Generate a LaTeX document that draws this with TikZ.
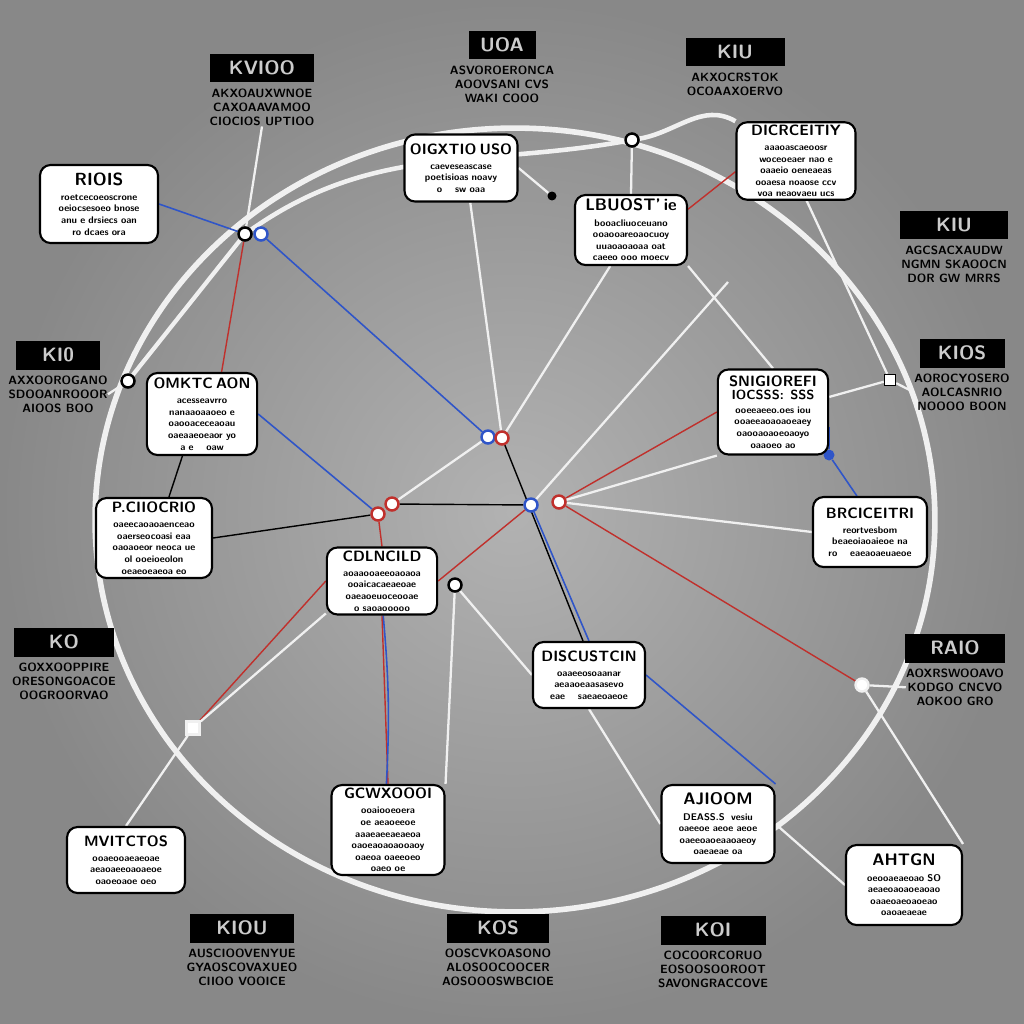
\documentclass[tikz,border=0pt]{standalone}
\usetikzlibrary{positioning,backgrounds}
\definecolor{bgin}{HTML}{B2B2B2}
\definecolor{bgout}{HTML}{888888}
\definecolor{wirered}{HTML}{C0302C}
\definecolor{wireblue}{HTML}{2F55C8}
\definecolor{rimwhite}{HTML}{F0F0F0}
\begin{document}
\begin{tikzpicture}[x=0.02cm,y=-0.02cm,
    card/.style={draw=black,line width=1.2pt,fill=white,rounded corners=6pt,
      align=center,text width=2.1cm,inner sep=1.5pt,
      font=\fontsize{5.5}{6.6}\selectfont\sffamily\bfseries},
    tag/.style={fill=black,text=gray!40,inner sep=1pt,minimum height=0.58cm,
      font=\fontsize{11}{12}\selectfont\sffamily\bfseries},
    blurb/.style={align=center,inner sep=0pt,
      font=\fontsize{6.8}{8.2}\selectfont\sffamily\bfseries},
    hub/.style={circle,draw=black,fill=white,line width=1.4pt,inner sep=0pt,minimum size=0.26cm},
    rhub/.style={hub,draw=wirered},
    bhub/.style={hub,draw=wireblue},
    wwire/.style={draw=rimwhite,line width=1.3pt},
    rwire/.style={draw=wirered,line width=0.8pt},
    bwire/.style={draw=wireblue,line width=0.9pt},
    kwire/.style={draw=black,line width=0.8pt}]
  \useasboundingbox (0,0) rectangle (1024,1024);

  % hubs
  \node[hub] (hA) at (245,234) {};
  \node[bhub] (hB) at (261,234) {};
  \node[bhub] (hC) at (488,437) {};
  \node[rhub] (hD) at (502,438) {};
  \node[rhub] (hE) at (392,504) {};
  \node[rhub] (hF) at (378,514) {};
  \node[bhub] (hG) at (531,505) {};
  \node[rhub] (hH) at (559,502) {};
  \node[hub] (hI) at (455,585) {};
  \node[hub] (hJ) at (128,381) {};
  \node[hub] (hK) at (632,140) {};
  \node[hub,draw=rimwhite] (hL) at (862,685) {};
  \node[hub,draw=rimwhite,rectangle] (hM) at (193,728) {};
  \node[circle,fill=wireblue,inner sep=0pt,minimum size=0.22cm] (hN) at (829,455) {};
  \node[circle,fill=black,inner sep=0pt,minimum size=0.18cm] (hQ) at (552,196) {};
  \node[hub,rectangle,minimum size=0.22cm,line width=0.8pt] (hP) at (890,380) {};
  \coordinate (c1) at (728,282);

  % cards
  \node[card,minimum width=2.36cm,minimum height=1.56cm] (rios) at (99,204)
    {{\fontsize{10}{11}\selectfont RIOIS}\\[2pt]
     roetcecoeoscrone\\ oeiocsesoeo bnose\\ anu e drsiecs oan\\ ro dcaes ora};
  \node[card,minimum width=2.26cm,minimum height=1.34cm] (oigx) at (461,168)
    {{\fontsize{8.5}{10}\selectfont OIGXTIO USO}\\[2pt]
     caeveseascase\\ poetisioas noavy\\ o \quad sw oaa};
  \node[card,minimum width=2.24cm,minimum height=1.40cm] (lbuo) at (631,230)
    {{\fontsize{9.5}{11}\selectfont LBUOST' ie}\\[2pt]
     booacliuoceuano\\ ooaooareoaocuoy\\ uuaoaoaoaa oat\\ caeeo ooo moecv};
  \node[card,minimum width=2.38cm,minimum height=1.54cm] (dicr) at (796,161)
    {{\fontsize{8.5}{10}\selectfont DICRCEITIY}\\[2pt]
     aaaoascaeoosr\\ woceoeaer nao e\\ oaaeio oeneaeas\\ ooaesa noaose ccv\\ voa neaovaeu ucs};
  \node[card,minimum width=2.16cm,minimum height=1.64cm] (omkt) at (202,414)
    {{\fontsize{8.5}{10}\selectfont OMKTC AON}\\[2pt]
     acesseavrro\\ nanaaoaaoeo e\\ oaooaceceaoau\\ oaeaaeoeaor yo\\ a e \quad oaw};
  \node[card,minimum width=2.32cm,minimum height=1.60cm] (pcio) at (154,538)
    {{\fontsize{8.5}{10}\selectfont P.CIIOCRIO}\\[2pt]
     oaeecaoaoaenceao\\ oaerseocoasi eaa\\ oaoaoeor neoca ue\\ ol ooeioeolon\\ oeaeoeaeoa eo};
  \node[card,minimum width=2.18cm,minimum height=1.34cm] (cdln) at (382,581)
    {{\fontsize{8.5}{10}\selectfont CDLNCILD}\\[2pt]
     aoaaooaeeoaoaoa\\ ooaicacaeaeoae\\ oaeaoeuoceooae\\ o saoaooooo};
  \node[card,minimum width=2.20cm,minimum height=1.70cm] (snig) at (773,412)
    {{\fontsize{8.5}{10}\selectfont SNIGIOREFI}\\[1pt]
     {\fontsize{7.5}{9}\selectfont IOCSSS: \ SSS}\\[1pt]
     ooeeaeeo.oes iou\\ ooaeeaoaoaoeaey\\ oaooaoaoeoaoyo\\ oaaoeo ao};
  \node[card,minimum width=2.28cm,minimum height=1.40cm] (brci) at (870,532)
    {{\fontsize{8.5}{10}\selectfont BRCICEITRI}\\[2pt]
     reortvesbom\\ beaeoiaoaieoe na\\ ro \quad eaeaoaeuaeoe};
  \node[card,minimum width=2.24cm,minimum height=1.32cm] (disc) at (589,675)
    {{\fontsize{8.5}{10}\selectfont DISCUSTCIN}\\[2pt]
     oaaeeosoaanar\\ aeaaoeaasasevo\\ eae \quad saeaeoaeoe};
  \node[card,minimum width=2.26cm,minimum height=1.56cm] (ajio) at (718,824)
    {{\fontsize{9.5}{11}\selectfont AJIOOM}\\[2pt]
     DEASS.S \ vesiu\\ oaeeoe aeoe aeoe\\ oaeeoaoeaaoaeoy\\ oaeaeae oa};
  \node[card,minimum width=2.26cm,minimum height=1.80cm] (gcwx) at (388,830)
    {{\fontsize{8.5}{10}\selectfont GCWXOOOI}\\[2pt]
     ooaiooeoera\\ oe aeaoeeoe\\ aaaeaeeaeaeoa\\ oaoeaoaoaooaoy\\ oaeoa oaeeoeo\\ oaeo oe};
  \node[card,minimum width=2.36cm,minimum height=1.32cm] (mvit) at (126,860)
    {{\fontsize{8.5}{10}\selectfont MVITCTOS}\\[2pt]
     ooaeooaeaeoae\\ aeaoaeeoaoaeoe\\ oaoeoaoe oeo};
  \node[card,minimum width=2.32cm,minimum height=1.60cm] (ahtg) at (904,885)
    {{\fontsize{9.5}{11}\selectfont AHTGN}\\[2pt]
     oeooaeaeoao SO\\ aeaeoaoaoeaoao\\ oaaeoaeoaoeao\\ oaoaeaeae};

  % outer labels
  \node[tag,minimum width=2.1cm] (kvio) at (262,68) {KVIOO};
  \node[blurb,below=3pt of kvio] (kviob) {AKXOAUXWNOE\\ CAXOAAVAMOO\\ CIOCIOS UPTIOO};
  \node[tag,minimum width=1.34cm] (uoa) at (502,45) {UOA};
  \node[blurb,below=3pt of uoa] (uoab) {ASVOROERONCA\\ AOOVSANI CVS\\ WAKI COOO};
  \node[tag,minimum width=1.98cm] (kiu) at (735,52) {KIU};
  \node[blurb,below=3pt of kiu] (kiub) {AKXOCRSTOK\\ OCOAAXOERVO};
  \node[tag,minimum width=2.16cm] (kiur) at (954,225) {KIU};
  \node[blurb,below=3pt of kiur] (kiurb) {AGCSACXAUDW\\ NGMN SKAOOCN\\ DOR GW MRRS};
  \node[tag,minimum width=1.7cm] (kios) at (962,353) {KIOS};
  \node[blurb,below=3pt of kios] (kiosb) {AOROCYOSERO\\ AOLCASNRIO\\ NOOOO BOON};
  \node[tag,minimum width=1.7cm] (kil) at (58,355) {KI0};
  \node[blurb,below=3pt of kil] (kilb) {AXXOOROGANO\\ SDOOANROOOR\\ AIOOS BOO};
  \node[tag,minimum width=2.0cm] (kol) at (64,642) {KO};
  \node[blurb,below=3pt of kol] (kolb) {GOXXOOPPIRE\\ ORESONGOACOE\\ OOGROORVAO};
  \node[tag,minimum width=2.0cm] (raio) at (955,648) {RAIO};
  \node[blurb,below=3pt of raio] (raiob) {AOXRSWOOAVO\\ KODGO CNCVO\\ AOKOO GRO};
  \node[tag,minimum width=2.1cm] (kiou) at (242,928) {KIOU};
  \node[blurb,below=3pt of kiou] (kioub) {AUSCIOOVENYUE\\ GYAOSCOVAXUEO\\ CIIOO VOOICE};
  \node[tag,minimum width=2.06cm] (kos) at (498,928) {KOS};
  \node[blurb,below=3pt of kos] (kosb) {OOSCVKOASONO\\ ALOSOOCOOCER\\ AOSOOOSWBCIOE};
  \node[tag,minimum width=2.1cm] (koi) at (713,930) {KOI};
  \node[blurb,below=3pt of koi] (koib) {COCOORCORUO\\ EOSOOSOOROOT\\ SAVONGRACCOVE};

  % connectors, under the cards
  \begin{pgfonlayer}{background}
    \shade[inner color=bgin,outer color=bgout] (0,0) rectangle (1024,1024);
    \draw[rimwhite,line width=3.2pt] (515,520) ellipse [x radius=8.4cm,y radius=7.84cm];
    \draw[rimwhite,line width=2.6pt] (hA) to[out=35,in=190] (hK);
    \draw[rimwhite,line width=2.6pt] (hK) to[out=10,in=150] (dicr.north west);
    \draw[rimwhite,line width=2.4pt] (hA) -- (hJ);
    \draw[wwire] (hA) -- (kviob.south);
    \draw[bwire] (rios.east) -- (hA);
    \draw[rwire] (hA) -- (omkt.65);
    \draw[bwire] (hB) -- (hC);
    \draw[wwire] (oigx.-75) -- (hD);
    \draw[wwire] (oigx.east) -- (hQ);
    \draw[wwire] (hK) -- (lbuo.north);
    \draw[wwire] (lbuo.-120) -- (hD);
    \draw[wwire] (lbuo.south east) -- (snig.north);
    \draw[wwire] (c1) -- (hG);
    \draw[rwire] (dicr.190) -- (lbuo.20);
    \draw[wwire] (dicr.-75) -- (hP);
    \draw[wwire] (hP) -- (snig.15);
    \draw[wwire] (hP) -- (kiosb.west);
    \draw[rwire] (snig.west) -- (hH);
    \draw[wwire] (snig.south west) -- (hH);
    \draw[wwire] (hH) -- (brci.west);
    \draw[bwire] (snig.-15) -- (hN);
    \draw[bwire] (hN) -- (brci.110);
    \draw[rwire] (hH) -- (hL);
    \draw[kwire] (hE) -- (hG);
    \draw[wwire] (hE) -- (hC);
    \draw[kwire] (pcio.east) -- (hF);
    \draw[bwire] (omkt.east) -- (hF);
    \draw[kwire] (omkt.-115) -- (pcio.70);
    \draw[rwire] (hF) -- (cdln.north);
    \draw[rwire] (cdln.south) -- (gcwx.north);
    \draw[bwire] (cdln.-88) to[bend left=4] (gcwx.92);
    \draw[rwire] (hG) -- (cdln.east);
    \draw[rwire] (cdln.west) -- (hM);
    \draw[wwire] (cdln.-150) -- (hM);
    \draw[bwire] (hG) -- (disc.north);
    \draw[kwire] (hD) -- (disc.100);
    \draw[bwire] (disc.east) -- (ajio.north east);
    \draw[wwire] (hI) -- (disc.west);
    \draw[wwire] (disc.south) -- (ajio.west);
    \draw[wwire] (hI) -- (gcwx.north east);
    \draw[wwire] (hL) -- (ahtg.north east);
    \draw[wwire] (ajio.east) -- (ahtg.west);
    \draw[wwire] (hM) -- (mvit.north);
    \draw[wwire] (kilb.east) -- (hJ);
    \draw[wwire] (hL) -- (raiob.west);
  \end{pgfonlayer}
\end{tikzpicture}
\end{document}
